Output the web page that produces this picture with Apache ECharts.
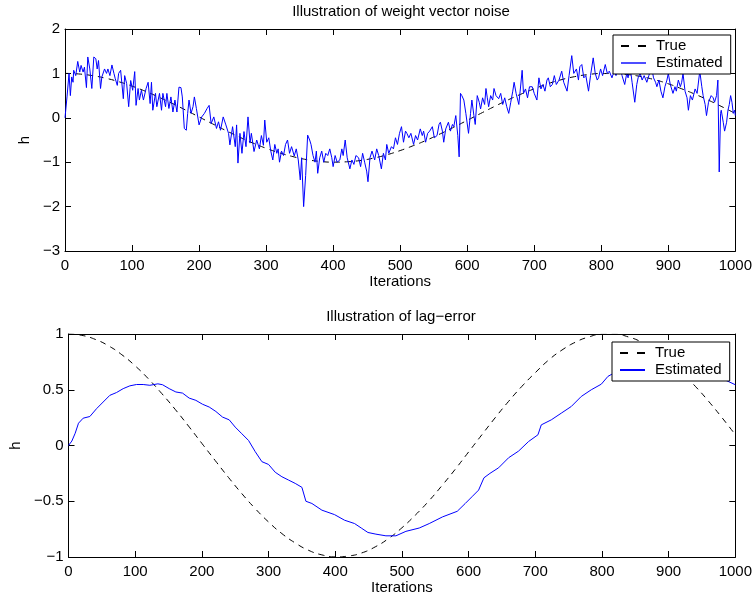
<!DOCTYPE html>
<html><head><meta charset="utf-8">
<script src="https://cdn.jsdelivr.net/npm/echarts@6/dist/echarts.min.js"></script>
<style>html,body{margin:0;padding:0;background:#fff}#c{width:755px;height:600px}</style>
</head><body><div id="c"></div>
<script>
// ---- data ----
const titles = ['Illustration of weight vector noise', 'Illustration of lag\u2212error'];
const xName = 'Iterations';
const yName = 'h';
const legendNames = ['True', 'Estimated'];

const trueIter = [0,20,40,60,80,100,120,140,160,180,200,220,240,260,280,300,320,340,360,380,400,420,440,460,480,500,520,540,560,580,600,620,640,660,680,700,720,740,760,780,800,820,840,860,880,900,920,940,960,980,1000];
const trueVal = [1,0.988,0.952,0.894,0.814,0.714,0.597,0.465,0.324,0.174,0.019,-0.135,-0.287,-0.432,-0.566,-0.686,-0.790,-0.874,-0.940,-0.981,-0.999,-0.991,-0.963,-0.909,-0.834,-0.738,-0.625,-0.5,-0.360,-0.213,-0.058,0.097,0.250,0.396,0.531,0.653,0.766,0.856,0.926,0.973,0.997,0.997,0.973,0.926,0.856,0.766,0.653,0.531,0.396,0.250,0.097];

const noisyEstimate = [
[0,0],[3,0.47],[6,1.0],[8,0.5],[10,0.92],[12,0.8],[13,1.07],[16,0.95],[19,1.27],[22,1.03],[24,1.18],[27,1.03],[29,1.14],[32,0.68],[34,1.37],[37,1.1],[40,0.66],[43,1.37],[46,1.33],[48,1.1],[50,1.29],[53,0.66],[55,0.92],[59,1.1],[62,1.0],[64,1.1],[67,0.95],[70,1.19],[73,1.0],[75,0.88],[78,0.73],[80,1.0],[83,1.07],[87,0.43],[89,0.95],[92,0.77],[95,0.25],[98,0.84],[101,0.62],[104,1.04],[106,0.28],[109,0.66],[111,0.4],[114,0.62],[117,0.4],[121,0.66],[124,0.8],[127,0.32],[129,0.8],[131,0.17],[135,0.55],[137,0.25],[141,0.55],[144,0.17],[146,0.55],[150,0.25],[152,0.55],[155,0.21],[158,0.47],[161,0.13],[164,0.4],[167,0.13],[170,0.69],[173,0.68],[175,0.47],[178,-0.24],[181,-0.28],[183,0.1],[185,0.4],[188,0.1],[191,0.25],[193,0.47],[196,0.21],[198,0.25],[200,-0.16],[204,0.02],[208,0.1],[212,0.21],[215,0.28],[218,-0.13],[222,0.02],[226,-0.24],[229,-0.09],[232,-0.28],[236,0.02],[240,-0.16],[244,-0.35],[246,-0.61],[250,-0.2],[254,-0.65],[256,-0.16],[258,-1.02],[261,-0.35],[264,-0.8],[267,-0.31],[270,-0.65],[273,0.02],[276,-0.57],[278,-0.35],[282,-0.76],[286,-0.5],[290,-0.7],[293,-0.4],[296,-0.62],[298,-0.05],[301,-0.55],[304,-0.45],[307,-0.75],[310,-0.95],[313,-0.6],[316,-0.8],[318,-0.7],[320,-1.0],[323,-0.75],[326,-0.85],[329,-0.6],[332,-0.5],[335,-0.8],[338,-0.65],[342,-0.86],[345,-0.7],[348,-0.95],[351,-1.4],[353,-0.9],[356,-2.0],[359,-1.3],[362,-0.39],[365,-0.5],[367,-0.6],[370,-0.85],[373,-1.0],[375,-0.75],[377,-1.25],[380,-0.9],[383,-0.75],[386,-1.0],[389,-0.8],[392,-0.85],[395,-0.7],[398,-0.9],[400,-1.1],[403,-0.85],[406,-1.0],[410,-0.95],[413,-0.7],[415,-0.85],[418,-0.5],[421,-0.9],[425,-1.15],[428,-0.95],[431,-1.05],[434,-0.85],[438,-0.9],[441,-1.1],[444,-0.8],[447,-1.0],[450,-1.2],[452,-1.44],[455,-0.9],[458,-0.75],[462,-0.95],[465,-0.7],[468,-0.85],[472,-1.15],[475,-0.8],[478,-0.95],[480,-0.6],[483,-0.8],[487,-0.65],[490,-0.7],[493,-0.45],[496,-0.6],[499,-0.35],[502,-0.2],[505,-0.55],[508,-0.3],[510,-0.35],[513,-0.45],[516,-0.35],[520,-0.6],[523,-0.4],[526,-0.5],[530,-0.25],[533,-0.4],[535,-0.3],[538,-0.55],[541,-0.35],[544,-0.3],[548,-0.2],[551,-0.45],[555,-0.4],[558,-0.15],[560,-0.1],[563,-0.3],[565,-0.55],[568,-0.25],[572,-0.1],[575,-0.3],[578,-0.15],[580,-0.2],[583,0.05],[586,-0.4],[588,-0.88],[590,0.55],[592,0.5],[595,0.4],[598,0.1],[602,-0.35],[605,0.1],[607,0.4],[610,0.05],[612,-0.15],[615,0.5],[618,0.35],[620,0.2],[623,0.45],[626,0.3],[628,0.66],[630,0.45],[632,0.25],[635,0.5],[638,0.4],[640,0.66],[643,0.5],[647,0.43],[650,0.55],[653,0.3],[656,0.45],[659,0.25],[662,0.1],[665,0.35],[668,0.6],[670,0.8],[673,0.55],[677,0.3],[679,0.6],[682,1.07],[684,0.55],[687,0.65],[690,0.45],[693,0.7],[697,0.7],[700,0.55],[704,0.4],[707,0.9],[710,0.65],[713,0.75],[716,0.6],[719,0.85],[721,0.9],[724,0.7],[727,0.75],[730,0.95],[733,0.75],[737,0.85],[741,1.05],[744,0.8],[749,0.6],[752,0.95],[756,1.4],[759,1.0],[763,1.1],[766,0.85],[768,1.15],[771,1.2],[774,0.9],[777,0.95],[781,0.6],[784,0.95],[788,1.35],[791,1.0],[794,0.85],[796,0.9],[799,1.1],[802,0.95],[806,1.2],[809,1.0],[812,1.05],[816,0.9],[819,1.05],[822,0.95],[825,1.1],[828,1.15],[831,0.95],[835,0.75],[838,1.0],[840,0.9],[843,1.15],[846,0.8],[850,0.35],[853,0.75],[855,0.9],[858,1.0],[861,0.85],[864,0.95],[868,0.8],[871,0.95],[875,1.15],[878,0.9],[881,0.8],[883,0.7],[886,0.85],[889,0.6],[892,0.45],[895,0.7],[898,0.85],[900,1.0],[903,0.75],[907,0.55],[910,0.7],[912,0.6],[915,0.85],[918,0.7],[920,0.8],[922,1.0],[925,0.6],[928,0.45],[930,0.17],[933,0.5],[936,0.4],[940,0.65],[943,0.55],[947,1.05],[950,0.7],[952,0.5],[955,0.3],[957,0.05],[960,0.35],[964,0.5],[967,0.45],[969,0.35],[972,0.5],[974,0.85],[976,-1.22],[978,0.1],[979,0.17],[982,-0.1],[984,-0.3],[987,-0.1],[989,0.17],[991,0.3],[993,0.5],[995,0.35],[997,0.1],[999,0.17],[1000,0.05]
];

const laggedEstimate = [
[0,0],[5,0.04],[10,0.11],[15,0.2],[22,0.245],[32,0.26],[42,0.33],[52,0.39],[62,0.45],[72,0.475],[82,0.51],[92,0.535],[102,0.547],[112,0.547],[122,0.54],[134,0.553],[141,0.545],[151,0.51],[161,0.48],[171,0.47],[181,0.425],[191,0.405],[201,0.37],[211,0.345],[221,0.305],[231,0.255],[241,0.23],[250,0.165],[260,0.105],[270,0.045],[280,-0.055],[290,-0.145],[300,-0.17],[310,-0.24],[320,-0.28],[330,-0.31],[340,-0.34],[350,-0.375],[356,-0.5],[365,-0.52],[380,-0.58],[399,-0.62],[414,-0.67],[429,-0.70],[439,-0.74],[449,-0.78],[461,-0.795],[476,-0.81],[491,-0.81],[506,-0.77],[526,-0.74],[541,-0.70],[561,-0.64],[583,-0.59],[595,-0.52],[605,-0.46],[615,-0.40],[623,-0.29],[632,-0.25],[645,-0.20],[660,-0.11],[675,-0.05],[690,0.036],[704,0.096],[709,0.185],[724,0.23],[739,0.29],[754,0.35],[769,0.44],[784,0.50],[799,0.55],[809,0.62],[818,0.65],[840,0.67],[870,0.68],[900,0.67],[930,0.65],[960,0.62],[982,0.595],[1000,0.545]
];

// ---- chart ----
const FONT = 'Liberation Sans, Arial, Helvetica, sans-serif';
const FS = 15;
const fmt = v => String(v).replace('-', '\u2212');
const grids = [
  {left: 65, top: 29, width: 672, height: 222},
  {left: 65, top: 334, width: 672, height: 223}
];
const yRanges = [{min: -3, max: 2, interval: 1}, {min: -1, max: 1, interval: 0.5}];

const xAxes = [], yAxes = [];
grids.forEach((g, i) => {
  xAxes.push({
    type: 'value', gridIndex: i, position: 'bottom', min: 0, max: 1000, interval: 100,
    name: xName, nameLocation: 'middle', nameGap: 23,
    nameTextStyle: {fontFamily: FONT, fontSize: FS, color: '#000'},
    axisLine: {onZero: false, lineStyle: {color: '#000', width: 1}},
    axisTick: {inside: true, length: 6, lineStyle: {color: '#000'}},
    axisLabel: {margin: 7, fontFamily: FONT, fontSize: FS, color: '#000', formatter: fmt},
    splitLine: {show: false}
  });
  xAxes.push({
    type: 'value', gridIndex: i, position: 'top', min: 0, max: 1000, interval: 100,
    axisLine: {onZero: false, lineStyle: {color: '#000', width: 1}},
    axisTick: {inside: true, length: 6, lineStyle: {color: '#000'}},
    axisLabel: {show: false}, splitLine: {show: false}
  });
  const r = yRanges[i];
  yAxes.push({
    type: 'value', gridIndex: i, position: 'left', min: r.min, max: r.max, interval: r.interval,
    name: yName, nameLocation: 'middle', nameGap: 28,
    nameTextStyle: {fontFamily: FONT, fontSize: FS, color: '#000'},
    axisLine: {show: true, onZero: false, lineStyle: {color: '#000', width: 1}},
    axisTick: {show: true, inside: true, length: 6, lineStyle: {color: '#000'}},
    axisLabel: {margin: 5, fontFamily: FONT, fontSize: FS, color: '#000', formatter: fmt},
    splitLine: {show: false}
  });
  yAxes.push({
    type: 'value', gridIndex: i, position: 'right', min: r.min, max: r.max, interval: r.interval,
    axisLine: {show: true, onZero: false, lineStyle: {color: '#000', width: 1}},
    axisTick: {show: true, inside: true, length: 6, lineStyle: {color: '#000'}},
    axisLabel: {show: false}, splitLine: {show: false}
  });
});

const truePairs = trueIter.map((x, k) => [x, trueVal[k]]);
const trueStyle = {color: '#000', width: 1, type: [6, 5]};
const estStyle = {color: '#0000ff', width: 1};

const series = [
  {name: 'True', type: 'line', xAxisIndex: 0, yAxisIndex: 0, data: truePairs, smooth: true, showSymbol: false, symbol: 'none', lineStyle: trueStyle, itemStyle: {color: '#000'}, z: 2},
  {name: 'Estimated', type: 'line', xAxisIndex: 0, yAxisIndex: 0, data: noisyEstimate, showSymbol: false, symbol: 'none', lineStyle: estStyle, itemStyle: {color: '#0000ff'}, z: 3},
  {name: 'True ', type: 'line', xAxisIndex: 2, yAxisIndex: 2, data: truePairs, smooth: true, showSymbol: false, symbol: 'none', lineStyle: trueStyle, itemStyle: {color: '#000'}, z: 2},
  {name: 'Estimated ', type: 'line', xAxisIndex: 2, yAxisIndex: 2, data: laggedEstimate, showSymbol: false, symbol: 'none', lineStyle: estStyle, itemStyle: {color: '#0000ff'}, z: 3}
];

const legendBase = {
  orient: 'vertical', itemWidth: 25, itemHeight: 12, itemGap: 1,
  padding: [3, 8, 3, 7], borderColor: '#000', borderWidth: 1, backgroundColor: '#fff',
  borderRadius: 0, selectedMode: false,
  itemStyle: {opacity: 0},
  textStyle: {fontFamily: FONT, fontSize: FS, color: '#000', lineHeight: 16, padding: [0, 0, 0, 5]},
  formatter: n => n.trim(),
  z: 10
};

const chart = echarts.init(document.getElementById('c'), null, {renderer: 'canvas'});
chart.setOption({
  animation: false,
  backgroundColor: '#fff',
  title: [
    {text: titles[0], left: 401, top: 4, textAlign: 'center', padding: 0, textStyle: {fontFamily: FONT, fontSize: FS, fontWeight: 'normal', color: '#000'}},
    {text: titles[1], left: 401, top: 309, textAlign: 'center', padding: 0, textStyle: {fontFamily: FONT, fontSize: FS, fontWeight: 'normal', color: '#000'}}
  ],
  grid: grids,
  xAxis: xAxes,
  yAxis: yAxes,
  legend: [
    Object.assign({}, legendBase, {left: 613, top: 35, data: [
      {name: 'True', lineStyle: {type: [8, 9]}},
      {name: 'Estimated', lineStyle: {width: 2, color: '#4d4dff'}}
    ]}),
    Object.assign({}, legendBase, {left: 612, top: 342, data: [
      {name: 'True ', lineStyle: {type: [8, 9]}},
      {name: 'Estimated '}
    ]})
  ],
  series: series
});
</script>
</body></html>
